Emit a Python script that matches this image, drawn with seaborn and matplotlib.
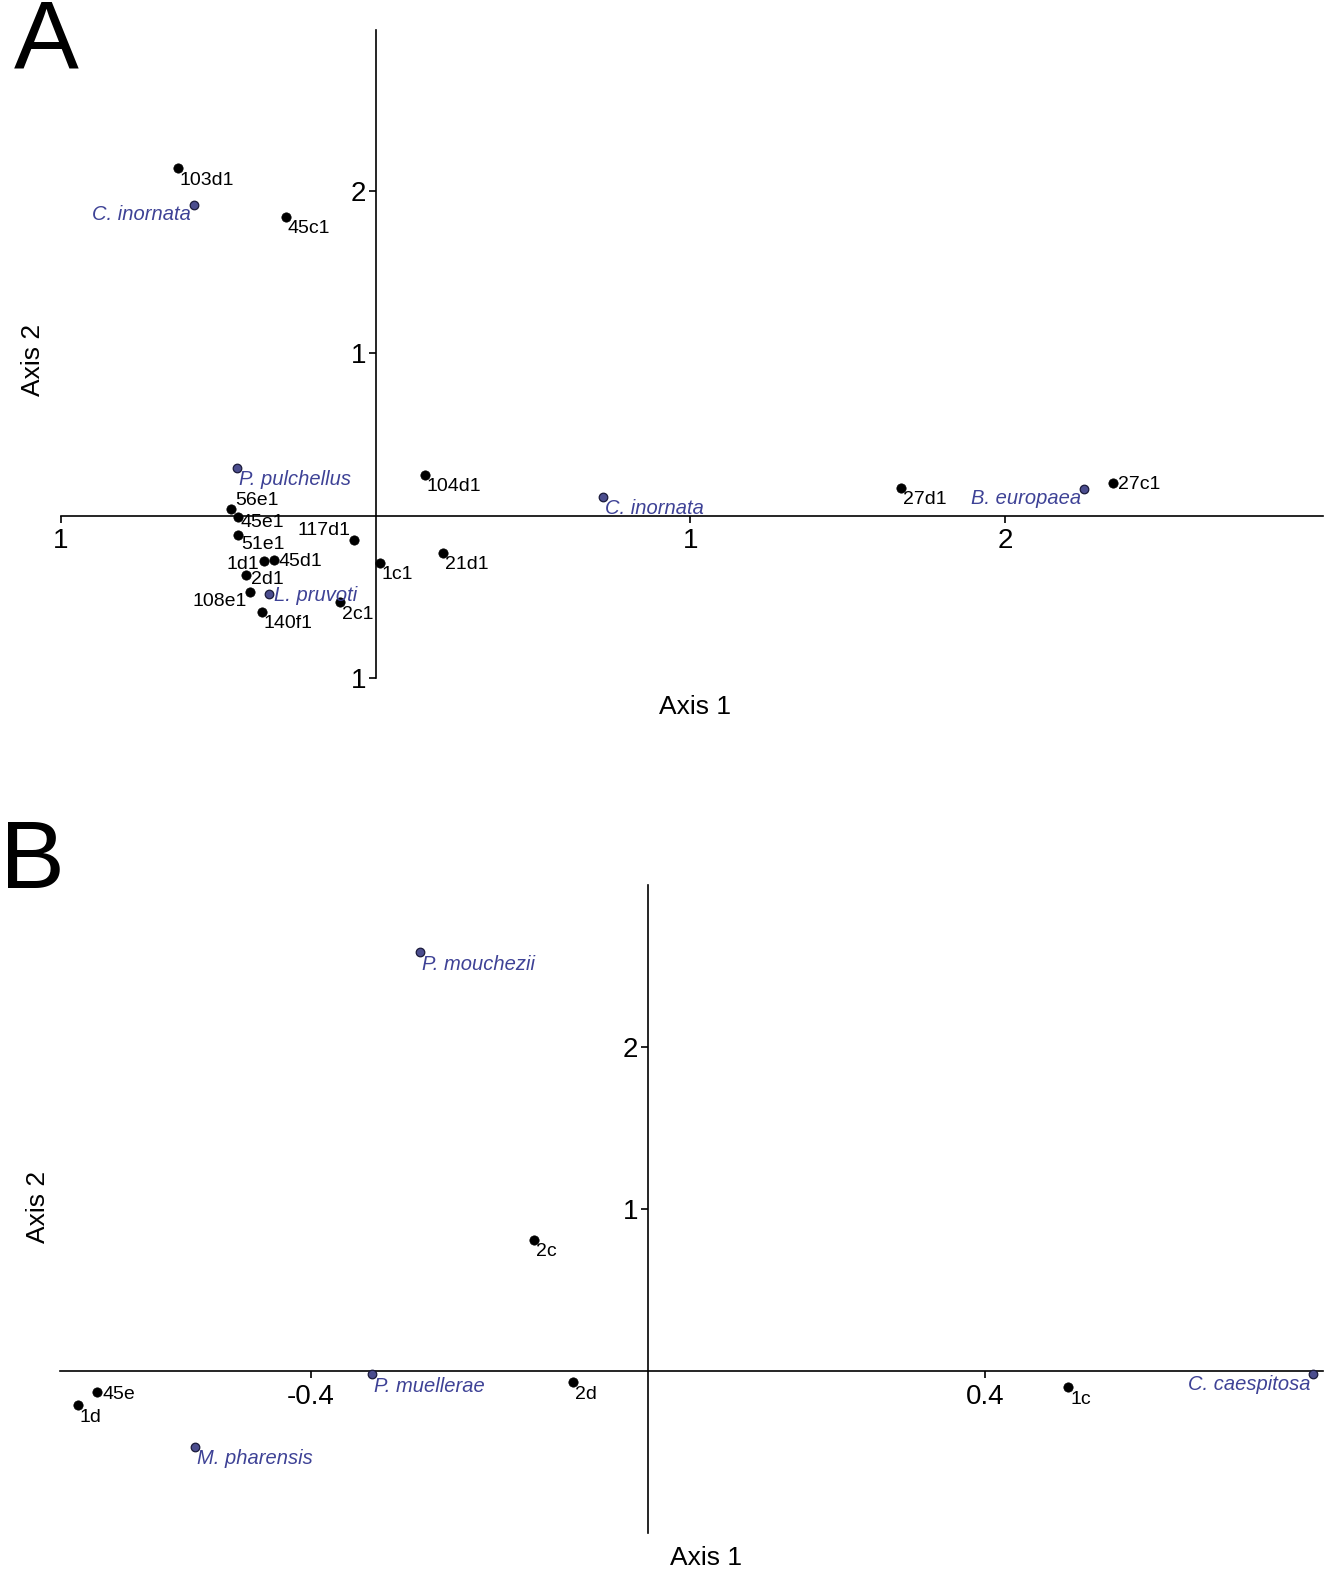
import matplotlib
matplotlib.use("Agg")
import matplotlib.pyplot as plt
import seaborn as sns
import pandas as pd

# ---------------- data ----------------
# Panel A
a_site_names = ["103d1", "45c1", "104d1", "56e1", "45e1", "51e1", "1d1", "45d1", "2d1",
                "108e1", "140f1", "117d1", "1c1", "2c1", "21d1", "27d1", "27c1"]
a_site_x = [-0.629, -0.286, 0.156, -0.460, -0.438, -0.438, -0.356, -0.324, -0.413,
            -0.400, -0.362, -0.070, 0.013, -0.114, 0.213, 1.670, 2.343]
a_site_y = [2.14, 1.84, 0.252, 0.043, -0.006, -0.117, -0.277, -0.271, -0.363,
            -0.468, -0.591, -0.148, -0.289, -0.535, -0.228, 0.172, 0.203]
a_site_place = ["br", "br", "br", "ur", "bt", "bs", "l", "r", "rd",
                "bl", "br", "ul", "br", "br", "br", "br", "r"]

a_sp_names = ["C. inornata", "P. pulchellus", "L. pruvoti", "C. inornata", "B. europaea"]
a_sp_x = [-0.578, -0.441, -0.340, 0.721, 2.251]
a_sp_y = [1.914, 0.295, -0.480, 0.117, 0.166]
a_sp_place = ["bl", "br", "r", "br", "bl"]

# Panel B
b_site_names = ["2c", "2d", "1c", "45e", "1d"]
b_site_x = [-0.135, -0.089, 0.499, -0.654, -0.677]
b_site_y = [0.809, -0.068, -0.099, -0.130, -0.210]
b_site_place = ["br", "br", "br", "r", "br"]

b_sp_names = ["P. mouchezii", "P. muellerae", "M. pharensis", "C. caespitosa"]
b_sp_x = [-0.270, -0.327, -0.538, 0.790]
b_sp_y = [2.586, -0.019, -0.469, -0.019]
b_sp_place = ["br", "br", "br", "bl"]

a_xticks = [-1, 1, 2]
a_xticklabels = ["1", "1", "2"]
a_yticks = [-1, 1, 2]
a_yticklabels = ["1", "1", "2"]
b_xticks = [-0.4, 0.4]
b_xticklabels = ["-0.4", "0.4"]
b_yticks = [1, 2]
b_yticklabels = ["1", "2"]

# ---------------- style ----------------
sns.set_theme(style="white")
plt.rcParams["font.family"] = ["Liberation Sans", "DejaVu Sans"]
plt.rcParams["text.color"] = "black"

SITE_COLOR = "black"
SP_FILL = "#4b4d8e"
SP_TEXT = "#3e4296"

PLACE = {  # (dx, dy) in pixels, ha
    "br": (2, -12, "left"),
    "bt": (3, -6, "left"),
    "bs": (3, -10, "left"),
    "r": (5, -2, "left"),
    "rd": (5, -5, "left"),
    "ur": (4, 8, "left"),
    "l": (-4, -4, "right"),
    "bl": (-3, -10, "right"),
    "ul": (-3, 9, "right"),
}

LABEL_SIZE = 14

W, H = 1326, 1572
fig = plt.figure(figsize=(W / 100, H / 100), dpi=100)


def px_axes(left, top, right, bottom):
    return fig.add_axes([left / W, 1 - bottom / H, (right - left) / W, (bottom - top) / H])


def style_axes(ax, xlim, ylim, xt, xtl, yt, ytl):
    ax.set_xlim(*xlim)
    ax.set_ylim(*ylim)
    for s in ["top", "right"]:
        ax.spines[s].set_visible(False)
    ax.spines["left"].set_position(("data", 0))
    ax.spines["bottom"].set_position(("data", 0))
    for s in ["left", "bottom"]:
        ax.spines[s].set_linewidth(1.2)
        ax.spines[s].set_color("black")
    ax.set_xticks(xt)
    ax.set_xticklabels(xtl)
    ax.set_yticks(yt)
    ax.set_yticklabels(ytl)
    ax.tick_params(axis="both", direction="out", length=5, width=1.2, colors="black",
                   labelsize=20, pad=3)
    ax.tick_params(axis="x", bottom=True, pad=4)
    ax.tick_params(axis="y", left=True, pad=2)
    ax.set_xlabel("")
    ax.set_ylabel("")
    ax.grid(False)
    ax.patch.set_alpha(0)


def draw(ax, sx, sy, sn, sp, px, py, pn, pp):
    df_s = pd.DataFrame({"x": sx, "y": sy})
    df_p = pd.DataFrame({"x": px, "y": py})
    sns.scatterplot(data=df_s, x="x", y="y", ax=ax, color=SITE_COLOR, s=45,
                    edgecolor="black", linewidth=0.5, zorder=3, legend=False)
    sns.scatterplot(data=df_p, x="x", y="y", ax=ax, color=SP_FILL, s=38,
                    edgecolor="#1a1a3a", linewidth=0.9, zorder=3, legend=False)
    for x, y, n, p in zip(sx, sy, sn, sp):
        dx, dy, ha = PLACE[p]
        ax.annotate(n, (x, y), xytext=(dx, dy), textcoords="offset pixels",
                    ha=ha, va="center", fontsize=LABEL_SIZE, color="black", zorder=4)
    for x, y, n, p in zip(px, py, pn, pp):
        dx, dy, ha = PLACE[p]
        ax.annotate(n, (x, y), xytext=(dx, dy), textcoords="offset pixels",
                    ha=ha, va="center", fontsize=LABEL_SIZE + 0.5, color=SP_TEXT,
                    style="italic", zorder=4)


# Panel A
axA = px_axes(61, 30, 1323, 678)
draw(axA, a_site_x, a_site_y, a_site_names, a_site_place,
     a_sp_x, a_sp_y, a_sp_names, a_sp_place)
style_axes(axA, (-1, 3.01), (-1, 2.99), a_xticks, a_xticklabels, a_yticks, a_yticklabels)

# Panel B
axB = px_axes(60, 885, 1323, 1533)
draw(axB, b_site_x, b_site_y, b_site_names, b_site_place,
     b_sp_x, b_sp_y, b_sp_names, b_sp_place)
style_axes(axB, (-0.698, 0.8017), (-1, 3.0), b_xticks, b_xticklabels, b_yticks, b_yticklabels)

# Axis labels
fig.text(695 / W, 1 - 707 / H, "Axis 1", ha="center", va="center", fontsize=19, color="black")
fig.text(33 / W, 1 - 360 / H, "Axis 2", ha="center", va="center", fontsize=19, rotation=90, color="black")
fig.text(706 / W, 1 - 1558 / H, "Axis 1", ha="center", va="center", fontsize=19, color="black")
fig.text(38 / W, 1 - 1207 / H, "Axis 2", ha="center", va="center", fontsize=19, rotation=90, color="black")

# Panel letters
fig.text(14 / W, 1 - 68 / H, "A", ha="left", va="baseline", fontsize=70, color="black")
fig.text(0 / W, 1 - 888 / H, "B", ha="left", va="baseline", fontsize=70, color="black")

fig.savefig("out.png", dpi=100)
